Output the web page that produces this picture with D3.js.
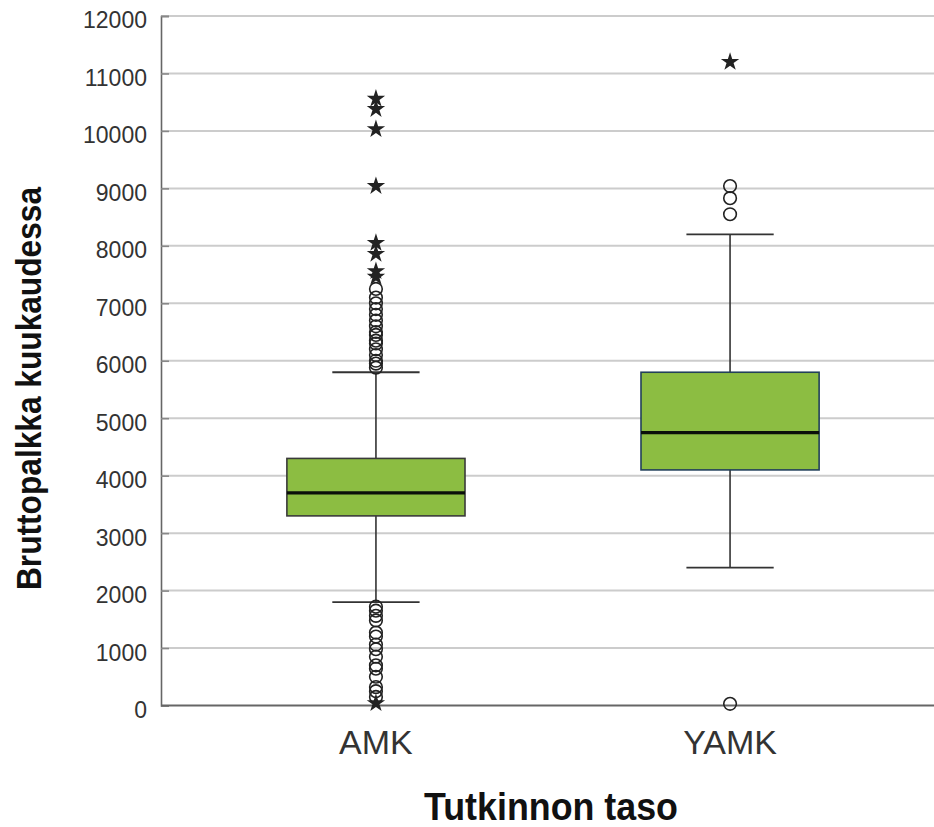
<!DOCTYPE html>
<html>
<head>
<meta charset="utf-8">
<script src="https://cdn.jsdelivr.net/npm/d3@7"></script>
<style>
  html, body { margin: 0; padding: 0; background: #fff; }
  svg { display: block; }
  text { font-family: "Liberation Sans", Arial, sans-serif; }
</style>
</head>
<body>
<script>
// ---- data ----
const categories = ["AMK", "YAMK"];
const q1      = [3300, 4100];
const median  = [3700, 4750];
const q3      = [4300, 5800];
const whiskLo = [1800, 2400];
const whiskHi = [5800, 8200];
// outliers (circles)
const outliersAMK  = [7250, 7100, 7000, 6900, 6800, 6700, 6600, 6500, 6450, 6350, 6300, 6200, 6100, 6000, 5950, 5880,
                      1720, 1650, 1560, 1480, 1270, 1200, 1060, 980, 850, 700, 640, 500, 320, 250, 150];
const outliersYAMK = [9040, 8830, 8550, 30];
// extremes (stars)
const extremesAMK  = [10560, 10380, 10030, 9040, 8050, 7860, 7560, 7460, 40];
const extremesYAMK = [11200];
const yTicks = [0, 1000, 2000, 3000, 4000, 5000, 6000, 7000, 8000, 9000, 10000, 11000, 12000];
const yTitle = "Bruttopalkka kuukaudessa";
const xTitle = "Tutkinnon taso";

(function () {
// ---- layout ----
const W = 934, H = 827;
const mLeft = 161, mRight = 945, mTop = 16, mBottom = 705.5;

const svg = d3.select("body").append("svg").attr("width", W).attr("height", H);

const y = d3.scaleLinear().domain([0, 12000]).range([mBottom, mTop]);
const x = d3.scalePoint().domain(categories).range([mLeft, mRight]).padding(0.607);
const step = x.step();
const boxW = step * 0.503;
const capW = boxW * 0.49;

// gridlines
svg.append("g").selectAll("line").data(yTicks.filter(d => d > 0)).join("line")
  .attr("x1", mLeft).attr("x2", W)
  .attr("y1", d => y(d)).attr("y2", d => y(d))
  .attr("stroke", "#cccccc").attr("stroke-width", 2);

// y axis with inner tick stubs
const yAxis = d3.axisLeft(y).tickValues(yTicks).tickFormat(d3.format("d"))
  .tickSizeInner(-8).tickSizeOuter(-8).tickPadding(14);
const gy = svg.append("g").attr("transform", `translate(${mLeft},0)`).call(yAxis);
gy.select(".domain").attr("stroke", "#666").attr("stroke-width", 1.6);
gy.selectAll(".tick line").attr("stroke", "#888").attr("stroke-width", 1.6);
gy.selectAll(".tick text")
  .attr("font-size", 23).attr("fill", "#333")
  .attr("x", -14).attr("dy", "0.52em")
  .attr("font-family", "'Liberation Sans', Arial, sans-serif");

// x axis line
svg.append("line").attr("x1", mLeft).attr("x2", W).attr("y1", mBottom).attr("y2", mBottom)
  .attr("stroke", "#666").attr("stroke-width", 2);

// category labels
svg.append("g").selectAll("text").data(categories).join("text")
  .attr("x", d => x(d)).attr("y", 754)
  .attr("text-anchor", "middle").attr("font-size", 34).attr("fill", "#333")
  .text(d => d);

// boxes
const stats = categories.map((c, i) => ({c, q1: q1[i], med: median[i], q3: q3[i], lo: whiskLo[i], hi: whiskHi[i],
  stroke: i === 0 ? "#3a3a3a" : "#22405a"}));

const g = svg.append("g");
g.selectAll(".stem").data(stats).join("line")
  .attr("x1", d => x(d.c)).attr("x2", d => x(d.c))
  .attr("y1", d => y(d.lo)).attr("y2", d => y(d.hi))
  .attr("stroke", "#333").attr("stroke-width", 1.6);
["lo", "hi"].forEach(k => {
  g.append("g").selectAll("line").data(stats).join("line")
    .attr("x1", d => x(d.c) - capW / 2).attr("x2", d => x(d.c) + capW / 2)
    .attr("y1", d => y(d[k])).attr("y2", d => y(d[k]))
    .attr("stroke", "#333").attr("stroke-width", 1.8);
});
g.append("g").selectAll("rect").data(stats).join("rect")
  .attr("x", d => x(d.c) - boxW / 2).attr("width", boxW)
  .attr("y", d => y(d.q3)).attr("height", d => y(d.q1) - y(d.q3))
  .attr("fill", "#8cbd42").attr("stroke", d => d.stroke).attr("stroke-width", 1.6);
g.append("g").selectAll("line").data(stats).join("line")
  .attr("x1", d => x(d.c) - boxW / 2).attr("x2", d => x(d.c) + boxW / 2)
  .attr("y1", d => y(d.med)).attr("y2", d => y(d.med))
  .attr("stroke", "#0a0f0a").attr("stroke-width", 3.2);

// outliers
const circ = [].concat(
  outliersAMK.map(v => ({c: "AMK", v})),
  outliersYAMK.map(v => ({c: "YAMK", v})));
g.append("g").selectAll("circle").data(circ).join("circle")
  .attr("cx", d => x(d.c)).attr("cy", d => y(d.v)).attr("r", 6.3)
  .attr("fill", "none").attr("stroke", "#222").attr("stroke-width", 1.6);

const stars = [].concat(
  extremesAMK.map(v => ({c: "AMK", v})),
  extremesYAMK.map(v => ({c: "YAMK", v})));
const starPath = d3.symbol().type(d3.symbolStar).size(105);
g.append("g").selectAll("path").data(stars).join("path")
  .attr("transform", d => `translate(${x(d.c)},${y(d.v)})`)
  .attr("d", starPath).attr("fill", "#222");

// axis titles
svg.append("text")
  .attr("transform", `translate(41,${(187 + 590) / 2}) rotate(-90)`)
  .attr("text-anchor", "middle").attr("font-size", 35).attr("font-weight", "bold").attr("fill", "#111")
  .attr("textLength", 403).attr("lengthAdjust", "spacingAndGlyphs")
  .text(yTitle);

svg.append("text")
  .attr("x", 551).attr("y", 820)
  .attr("text-anchor", "middle").attr("font-size", 38).attr("font-weight", "bold").attr("fill", "#111")
  .attr("textLength", 254).attr("lengthAdjust", "spacingAndGlyphs")
  .text(xTitle);
})();
</script>
</body>
</html>
